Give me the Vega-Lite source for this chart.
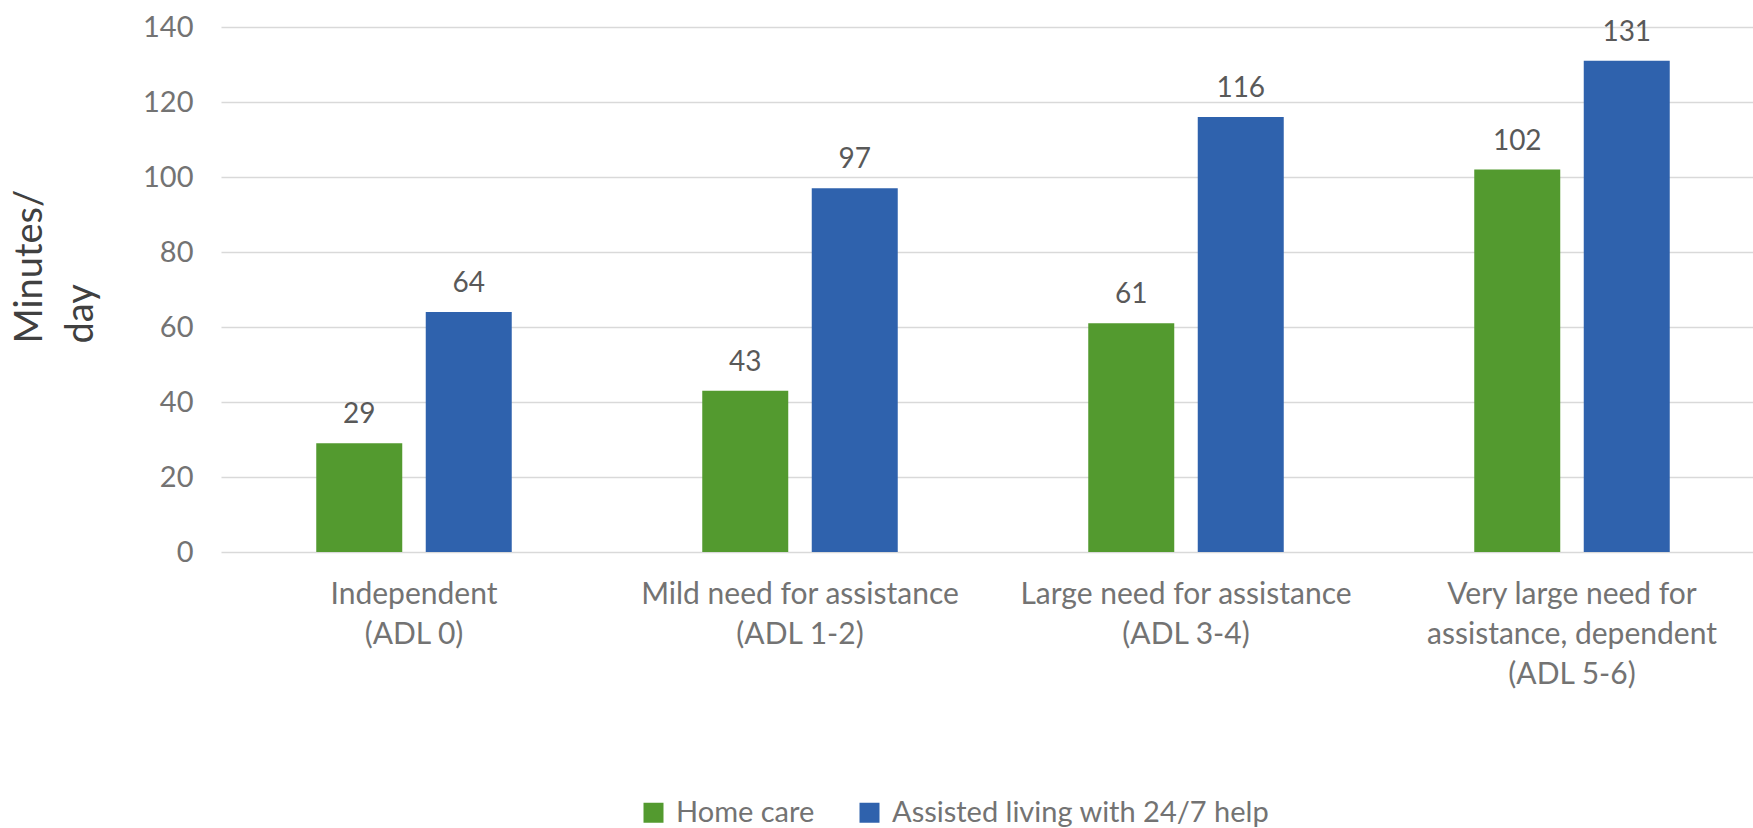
{
  "$schema": "https://vega.github.io/schema/vega-lite/v6.json",
  "autosize": {"type": "none"},
  "padding": {"left": 221, "top": 27, "right": 0, "bottom": 276},
  "width": 1544,
  "height": 525,
  "background": "white",
  "config": {
    "view": {"stroke": null},
    "font": "Lato"
  },
  "data": {
    "values": [
      {"category": "Independent|(ADL 0)", "series": "Home care", "minutes": 29},
      {"category": "Independent|(ADL 0)", "series": "Assisted living with 24/7 help", "minutes": 64},
      {"category": "Mild need for assistance|(ADL 1-2)", "series": "Home care", "minutes": 43},
      {"category": "Mild need for assistance|(ADL 1-2)", "series": "Assisted living with 24/7 help", "minutes": 97},
      {"category": "Large need for assistance|(ADL 3-4)", "series": "Home care", "minutes": 61},
      {"category": "Large need for assistance|(ADL 3-4)", "series": "Assisted living with 24/7 help", "minutes": 116},
      {"category": "Very large need for|assistance, dependent|(ADL 5-6)", "series": "Home care", "minutes": 102},
      {"category": "Very large need for|assistance, dependent|(ADL 5-6)", "series": "Assisted living with 24/7 help", "minutes": 131}
    ]
  },
  "encoding": {
    "x": {
      "field": "category",
      "type": "nominal",
      "sort": null,
      "scale": {"paddingInner": 0, "paddingOuter": 0},
      "axis": {
        "title": null,
        "labelAngle": 0,
        "labelExpr": "split(datum.value, '|')",
        "labelFontSize": 30,
        "labelColor": "#737373",
        "labelLineHeight": 40,
        "labelBaseline": "top",
        "labelPadding": 27,
        "labelLimit": 0,
        "domain": false,
        "ticks": false
      }
    },
    "xOffset": {
      "field": "series",
      "type": "nominal",
      "sort": ["Home care", "Assisted living with 24/7 help"],
      "scale": {"paddingInner": 0.2146, "paddingOuter": 0.87}
    },
    "y": {
      "field": "minutes",
      "type": "quantitative",
      "scale": {"domain": [0, 140], "nice": false},
      "axis": {
        "title": ["Minutes/", "day"],
        "titleFontSize": 38,
        "titleFontWeight": "normal",
        "titleColor": "#404040",
        "titleAngle": -90,
        "titleAlign": "left",
        "titleBaseline": "alphabetic",
        "titleX": -180,
        "titleY": 316,
        "titleLineHeight": 51,
        "values": [0, 20, 40, 60, 80, 100, 120, 140],
        "labelFontSize": 29,
        "labelColor": "#737373",
        "labelPadding": 28,
        "domain": false,
        "ticks": false,
        "grid": true,
        "gridColor": "#d9d9d9",
        "gridWidth": 1.5
      }
    }
  },
  "layer": [
    {
      "mark": {"type": "bar"},
      "encoding": {
        "color": {
          "field": "series",
          "type": "nominal",
          "sort": ["Home care", "Assisted living with 24/7 help"],
          "scale": {"domain": ["Home care", "Assisted living with 24/7 help"], "range": ["#539A2F", "#2F62AD"]},
          "legend": {
            "title": null,
            "orient": "none",
            "legendX": 418,
            "legendY": 771,
            "direction": "horizontal",
            "symbolType": "square",
            "symbolSize": 400,
            "symbolStrokeWidth": 0,
            "labelFontSize": 29,
            "labelColor": "#737373",
            "labelOffset": 8,
            "labelLimit": 0,
            "columnPadding": 40
          }
        }
      }
    },
    {
      "mark": {"type": "text", "baseline": "alphabetic", "dy": -20, "fontSize": 28, "color": "#595959"},
      "encoding": {
        "text": {"field": "minutes", "type": "quantitative"}
      }
    }
  ]
}
